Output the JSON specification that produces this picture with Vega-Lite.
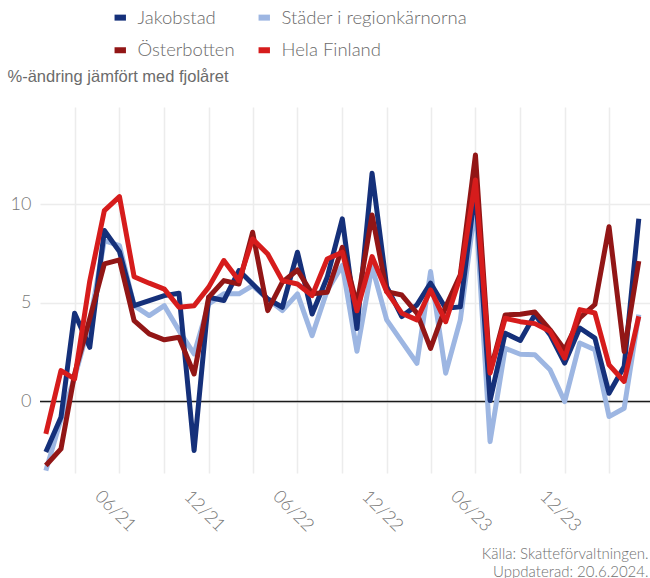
{
  "$schema": "https://vega.github.io/schema/vega-lite/v6.json",
  "width": 610,
  "height": 366,
  "autosize": {"type": "none"},
  "padding": {"left": 40, "top": 107, "right": 0, "bottom": 105},
  "background": "white",
  "config": {"view": {"stroke": null}, "font": "Lato"},
  "layer": [
    {
      "data": {"values": [{"y0": 0}]},
      "mark": {"type": "rule", "color": "#1a1a1a", "strokeWidth": 1.5},
      "encoding": {
        "y": {"field": "y0", "type": "quantitative", "scale": {"domain": [-3.62, 14.93], "nice": false, "zero": false}}
      }
    },
    {
      "data": {"values": [
        {"d": "2021-01-01", "Jakobstad": -2.55, "Städer i regionkärnorna": -3.5, "Österbotten": -3.24, "Hela Finland": -1.64},
        {"d": "2021-02-01", "Jakobstad": -0.8, "Städer i regionkärnorna": -0.9, "Österbotten": -2.4, "Hela Finland": 1.57},
        {"d": "2021-03-01", "Jakobstad": 4.48, "Städer i regionkärnorna": 1.23, "Österbotten": 1.4, "Hela Finland": 1.15},
        {"d": "2021-04-01", "Jakobstad": 2.75, "Städer i regionkärnorna": 4.0, "Österbotten": 4.2, "Hela Finland": 6.1},
        {"d": "2021-05-01", "Jakobstad": 8.67, "Städer i regionkärnorna": 8.16, "Österbotten": 6.98, "Hela Finland": 9.68},
        {"d": "2021-06-01", "Jakobstad": 7.6, "Städer i regionkärnorna": 7.9, "Österbotten": 7.18, "Hela Finland": 10.39},
        {"d": "2021-07-01", "Jakobstad": 4.86, "Städer i regionkärnorna": 4.86, "Österbotten": 4.1, "Hela Finland": 6.33},
        {"d": "2021-08-01", "Jakobstad": 5.12, "Städer i regionkärnorna": 4.36, "Österbotten": 3.43, "Hela Finland": 6.0},
        {"d": "2021-09-01", "Jakobstad": 5.37, "Städer i regionkärnorna": 4.86, "Österbotten": 3.13, "Hela Finland": 5.7},
        {"d": "2021-10-01", "Jakobstad": 5.49, "Städer i regionkärnorna": 3.6, "Österbotten": 3.26, "Hela Finland": 4.78},
        {"d": "2021-11-01", "Jakobstad": -2.48, "Städer i regionkärnorna": 2.42, "Österbotten": 1.4, "Hela Finland": 4.86},
        {"d": "2021-12-01", "Jakobstad": 5.29, "Städer i regionkärnorna": 4.95, "Österbotten": 5.29, "Hela Finland": 5.8},
        {"d": "2022-01-01", "Jakobstad": 5.12, "Städer i regionkärnorna": 5.46, "Österbotten": 6.13, "Hela Finland": 7.15},
        {"d": "2022-02-01", "Jakobstad": 6.64, "Städer i regionkärnorna": 5.46, "Österbotten": 5.96, "Hela Finland": 6.13},
        {"d": "2022-03-01", "Jakobstad": 5.96, "Städer i regionkärnorna": 5.88, "Österbotten": 8.58, "Hela Finland": 8.24},
        {"d": "2022-04-01", "Jakobstad": 5.2, "Städer i regionkärnorna": 5.2, "Österbotten": 4.61, "Hela Finland": 7.48},
        {"d": "2022-05-01", "Jakobstad": 4.78, "Städer i regionkärnorna": 4.61, "Österbotten": 6.05, "Hela Finland": 6.13},
        {"d": "2022-06-01", "Jakobstad": 7.57, "Städer i regionkärnorna": 5.46, "Österbotten": 6.67, "Hela Finland": 5.96},
        {"d": "2022-07-01", "Jakobstad": 4.44, "Städer i regionkärnorna": 3.34, "Österbotten": 5.46, "Hela Finland": 5.37},
        {"d": "2022-08-01", "Jakobstad": 6.3, "Städer i regionkärnorna": 5.63, "Österbotten": 5.54, "Hela Finland": 7.23},
        {"d": "2022-09-01", "Jakobstad": 9.26, "Städer i regionkärnorna": 6.9, "Österbotten": 7.82, "Hela Finland": 7.57},
        {"d": "2022-10-01", "Jakobstad": 3.7, "Städer i regionkärnorna": 2.55, "Österbotten": 4.9, "Hela Finland": 4.6},
        {"d": "2022-11-01", "Jakobstad": 11.57, "Städer i regionkärnorna": 6.84, "Österbotten": 9.46, "Hela Finland": 7.35},
        {"d": "2022-12-01", "Jakobstad": 5.83, "Städer i regionkärnorna": 4.14, "Österbotten": 5.57, "Hela Finland": 5.57},
        {"d": "2023-01-01", "Jakobstad": 4.31, "Städer i regionkärnorna": 3.04, "Österbotten": 5.4, "Hela Finland": 4.48},
        {"d": "2023-02-01", "Jakobstad": 4.9, "Städer i regionkärnorna": 1.94, "Österbotten": 4.48, "Hela Finland": 4.14},
        {"d": "2023-03-01", "Jakobstad": 6.0, "Städer i regionkärnorna": 6.59, "Österbotten": 2.7, "Hela Finland": 5.66},
        {"d": "2023-04-01", "Jakobstad": 4.73, "Städer i regionkärnorna": 1.44, "Österbotten": 4.81, "Hela Finland": 4.05},
        {"d": "2023-05-01", "Jakobstad": 4.8, "Städer i regionkärnorna": 4.14, "Österbotten": 6.42, "Hela Finland": 6.33},
        {"d": "2023-06-01", "Jakobstad": 10.8, "Städer i regionkärnorna": 10.0, "Österbotten": 12.5, "Hela Finland": 11.23},
        {"d": "2023-07-01", "Jakobstad": 0.05, "Städer i regionkärnorna": -2.03, "Österbotten": 1.5, "Hela Finland": 1.44},
        {"d": "2023-08-01", "Jakobstad": 3.46, "Städer i regionkärnorna": 2.7, "Österbotten": 4.39, "Hela Finland": 4.22},
        {"d": "2023-09-01", "Jakobstad": 3.1, "Städer i regionkärnorna": 2.4, "Österbotten": 4.43, "Hela Finland": 4.05},
        {"d": "2023-10-01", "Jakobstad": 4.41, "Städer i regionkärnorna": 2.37, "Österbotten": 4.54, "Hela Finland": 3.95},
        {"d": "2023-11-01", "Jakobstad": 3.39, "Städer i regionkärnorna": 1.61, "Österbotten": 3.64, "Hela Finland": 3.56},
        {"d": "2023-12-01", "Jakobstad": 1.95, "Städer i regionkärnorna": 0.0, "Österbotten": 2.63, "Hela Finland": 2.2},
        {"d": "2024-01-01", "Jakobstad": 3.73, "Städer i regionkärnorna": 2.97, "Österbotten": 4.24, "Hela Finland": 4.66},
        {"d": "2024-02-01", "Jakobstad": 3.22, "Städer i regionkärnorna": 2.63, "Österbotten": 4.92, "Hela Finland": 4.49},
        {"d": "2024-03-01", "Jakobstad": 0.42, "Städer i regionkärnorna": -0.76, "Österbotten": 8.86, "Hela Finland": 1.86},
        {"d": "2024-04-01", "Jakobstad": 1.78, "Städer i regionkärnorna": -0.34, "Österbotten": 2.54, "Hela Finland": 1.02},
        {"d": "2024-05-01", "Jakobstad": 9.27, "Städer i regionkärnorna": 4.41, "Österbotten": 7.12, "Hela Finland": 4.32}
      ]},
      "transform": [{"fold": ["Jakobstad", "Städer i regionkärnorna", "Österbotten", "Hela Finland"], "as": ["serie", "varde"]}],
      "layer": [
        {
          "transform": [{"filter": "datum.serie == 'Städer i regionkärnorna'"}],
          "mark": {"type": "line", "strokeWidth": 5, "strokeJoin": "round"},
          "encoding": {
            "x": {
              "field": "d", "type": "temporal",
              "scale": {"type": "utc", "domain": [{"year": 2020, "month": 12, "date": 20, "utc": true}, {"year": 2024, "month": 5, "date": 24, "utc": true}], "nice": false},
              "axis": {
                "values": [
                  {"year": 2021, "month": 3, "date": 1, "utc": true},
                  {"year": 2021, "month": 6, "date": 1, "utc": true},
                  {"year": 2021, "month": 9, "date": 1, "utc": true},
                  {"year": 2021, "month": 12, "date": 1, "utc": true},
                  {"year": 2022, "month": 3, "date": 1, "utc": true},
                  {"year": 2022, "month": 6, "date": 1, "utc": true},
                  {"year": 2022, "month": 9, "date": 1, "utc": true},
                  {"year": 2022, "month": 12, "date": 1, "utc": true},
                  {"year": 2023, "month": 3, "date": 1, "utc": true},
                  {"year": 2023, "month": 6, "date": 1, "utc": true},
                  {"year": 2023, "month": 9, "date": 1, "utc": true},
                  {"year": 2023, "month": 12, "date": 1, "utc": true},
                  {"year": 2024, "month": 3, "date": 1, "utc": true}
                ],
                "labelExpr": "utcmonth(datum.value) % 6 == 5 ? utcFormat(datum.value, '%m/%y') : ''",
                "domain": false, "ticks": false,
                "grid": true, "gridColor": "#ececec", "gridWidth": 1.5,
                "labelAngle": 45, "labelAlign": "center", "labelBaseline": "middle",
                "labelPadding": 38, "labelOffset": -5,
                "labelFont": "Lato", "labelFontSize": 18, "labelFontWeight": 300, "labelColor": "#777777",
                "labelOverlap": false,
                "title": ["Källa: Skatteförvaltningen.", "Uppdaterad: 20.6.2024."],
                "titleAnchor": "end", "titleAlign": "right", "titleBaseline": "alphabetic",
                "titleX": 608, "titleY": 85, "titleLineHeight": 18,
                "titleFont": "Lato", "titleFontSize": 15, "titleFontWeight": 300, "titleColor": "#707070"
              }
            },
            "y": {
              "field": "varde", "type": "quantitative",
              "scale": {"domain": [-3.62, 14.93], "nice": false, "zero": false},
              "axis": {
                "values": [0, 5, 10], "domain": false, "ticks": false,
                "grid": true, "gridColor": "#ececec", "gridWidth": 1.5,
                "labelFont": "Lato", "labelFontSize": 18, "labelFontWeight": 300, "labelColor": "#777777", "labelPadding": 9,
                "title": "%-ändring jämfört med fjolåret",
                "titleAngle": 0, "titleAlign": "left", "titleBaseline": "alphabetic",
                "titleX": -33, "titleY": -26,
                "titleFont": "Liberation Sans", "titleFontSize": 16.5, "titleFontWeight": "normal", "titleColor": "#6b6b6b"
              }
            },
            "color": {
              "field": "serie", "type": "nominal",
              "scale": {"domain": ["Jakobstad", "Städer i regionkärnorna", "Österbotten", "Hela Finland"], "range": ["#15307a", "#9db6e2", "#921616", "#d61c1c"]},
              "legend": {
                "orient": "none", "legendX": 71, "legendY": -99, "direction": "horizontal", "columns": 2,
                "title": null, "symbolType": "stroke", "symbolStrokeWidth": 6, "symbolSize": 130,
                "labelFont": "Lato", "labelFontSize": 18.5, "labelFontWeight": 300, "labelColor": "#6a6a6a", "labelOffset": 8,
                "labelLimit": 400,
                "columnPadding": 11, "rowPadding": 8, "padding": 0
              }
            }
          }
        },
        {
          "transform": [{"filter": "datum.serie == 'Jakobstad'"}],
          "mark": {"type": "line", "strokeWidth": 5, "strokeJoin": "round"},
          "encoding": {
            "x": {"field": "d", "type": "temporal"},
            "y": {"field": "varde", "type": "quantitative"},
            "color": {"field": "serie", "type": "nominal"}
          }
        },
        {
          "transform": [{"filter": "datum.serie == 'Österbotten'"}],
          "mark": {"type": "line", "strokeWidth": 5, "strokeJoin": "round"},
          "encoding": {
            "x": {"field": "d", "type": "temporal"},
            "y": {"field": "varde", "type": "quantitative"},
            "color": {"field": "serie", "type": "nominal"}
          }
        },
        {
          "transform": [{"filter": "datum.serie == 'Hela Finland'"}],
          "mark": {"type": "line", "strokeWidth": 5, "strokeJoin": "round"},
          "encoding": {
            "x": {"field": "d", "type": "temporal"},
            "y": {"field": "varde", "type": "quantitative"},
            "color": {"field": "serie", "type": "nominal"}
          }
        }
      ]
    }
  ]
}
